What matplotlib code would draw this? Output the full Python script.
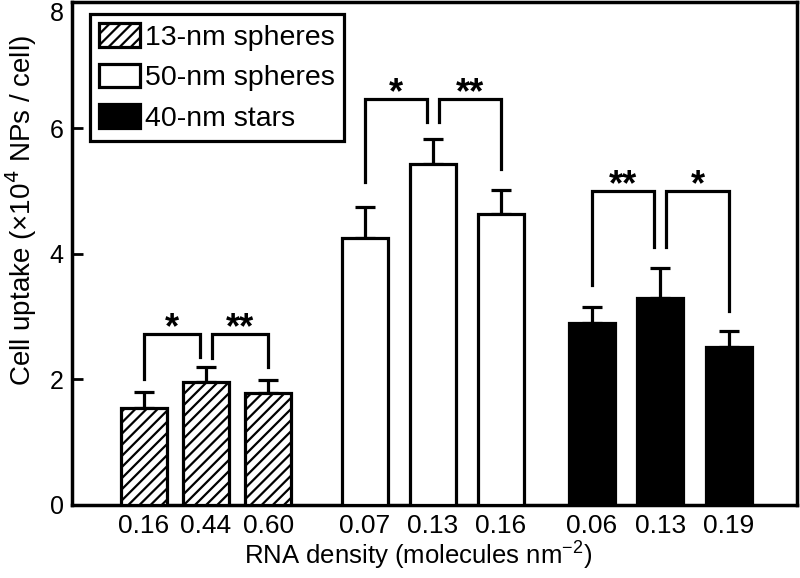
import matplotlib
matplotlib.use("Agg")
import matplotlib.pyplot as plt
import matplotlib.transforms as mtrans
import numpy as np

plt.rcParams['font.family'] = ['Liberation Sans', 'DejaVu Sans']
plt.rcParams['hatch.linewidth'] = 1.6

# ---- data ----
groups = ["13-nm spheres", "50-nm spheres", "40-nm stars"]
tick_labels = ["0.16", "0.44", "0.60", "0.07", "0.13", "0.16", "0.06", "0.13", "0.19"]
uptake_13 = [1.54, 1.95, 1.78]
err_13 = [0.25, 0.24, 0.20]
uptake_50 = [4.25, 5.43, 4.63]
err_50 = [0.49, 0.40, 0.38]
uptake_40 = [2.89, 3.29, 2.51]
err_40 = [0.26, 0.48, 0.26]

# significance brackets: (group index, left bar, right bar, label)
sig_pairs = [(0, 0, 1, "*"), (0, 1, 2, "**"),
             (1, 0, 1, "*"), (1, 1, 2, "**"),
             (2, 0, 1, "**"), (2, 1, 2, "*")]
sig_top = [2.72, 2.72, 6.46, 6.46, 4.99, 4.99]
sig_left_bottom = [2.00, 2.33, 5.14, 6.09, 3.50, 4.10]
sig_right_bottom = [2.35, 2.19, 6.09, 5.35, 4.10, 3.08]

# ---- layout ----
positions = [[72, 134, 196.5], [293, 361, 429], [520, 588.5, 657]]
bar_w = 46
leg_gap = 6

fig = plt.figure(figsize=(8, 5.78), dpi=100)
ax = fig.add_axes([0.09, 0.127, 0.906, 0.8687])

vals = [uptake_13, uptake_50, uptake_40]
errs = [err_13, err_50, err_40]
styles = [dict(facecolor="white", hatch="///"),
          dict(facecolor="white"),
          dict(facecolor="black")]

for g in range(3):
    ax.bar(positions[g], vals[g], width=bar_w, edgecolor="black", linewidth=2.3,
           label=groups[g], zorder=3, **styles[g])
    ax.errorbar(positions[g], vals[g], yerr=[np.zeros(3), errs[g]], fmt="none",
                ecolor="black", elinewidth=2.3, capsize=7, capthick=2.3, zorder=2)

star_tr = ax.transData + mtrans.ScaledTranslation(0, -4 / 100, fig.dpi_scale_trans)
for k, (g, i, j, lab) in enumerate(sig_pairs):
    xl = positions[g][i] + (leg_gap if i == 1 else 0)
    xr = positions[g][j] - (leg_gap if j == 1 else 0)
    top = sig_top[k]
    ax.plot([xl, xl, xr, xr], [sig_left_bottom[k], top, top, sig_right_bottom[k]],
            color="black", lw=2.3, solid_joinstyle="miter", zorder=4)
    ax.text((xl + xr) / 2, top, lab, ha="center", va="baseline",
            fontsize=26, fontweight="bold", transform=star_tr)

ax.set_xlim(0, 725)
ax.set_ylim(0, 8)
ax.set_yticks([0, 2, 4, 6, 8])
ax.set_xticks([p for grp in positions for p in grp])
ax.set_xticklabels(tick_labels)
ax.tick_params(axis="y", direction="in", length=8, width=2, labelsize=18, pad=6)
ax.tick_params(axis="x", length=0, labelsize=19, pad=7)
ax.get_yticklabels()[-1].set_verticalalignment("top")
for s in ax.spines.values():
    s.set_linewidth(2.5)

ax.set_ylabel("Cell uptake (×10$^4$ NPs / cell)", fontsize=20)
ax.yaxis.set_label_coords(-0.046, 0.585)
ax.set_xlabel("RNA density (molecules nm$^{\\mathregular{-2}}$)", fontsize=18.5)
ax.xaxis.set_label_coords(0.477, -0.066)

leg = ax.legend(loc="upper left", bbox_to_anchor=(0.0248, 0.977), fontsize=20.5,
                fancybox=False, edgecolor="black", framealpha=1,
                handlelength=1.45, handleheight=0.9, handletextpad=0.15,
                borderpad=0.32, labelspacing=0.45, borderaxespad=0)
leg.get_frame().set_linewidth(2.3)

fig.savefig("out.png", dpi=100)
